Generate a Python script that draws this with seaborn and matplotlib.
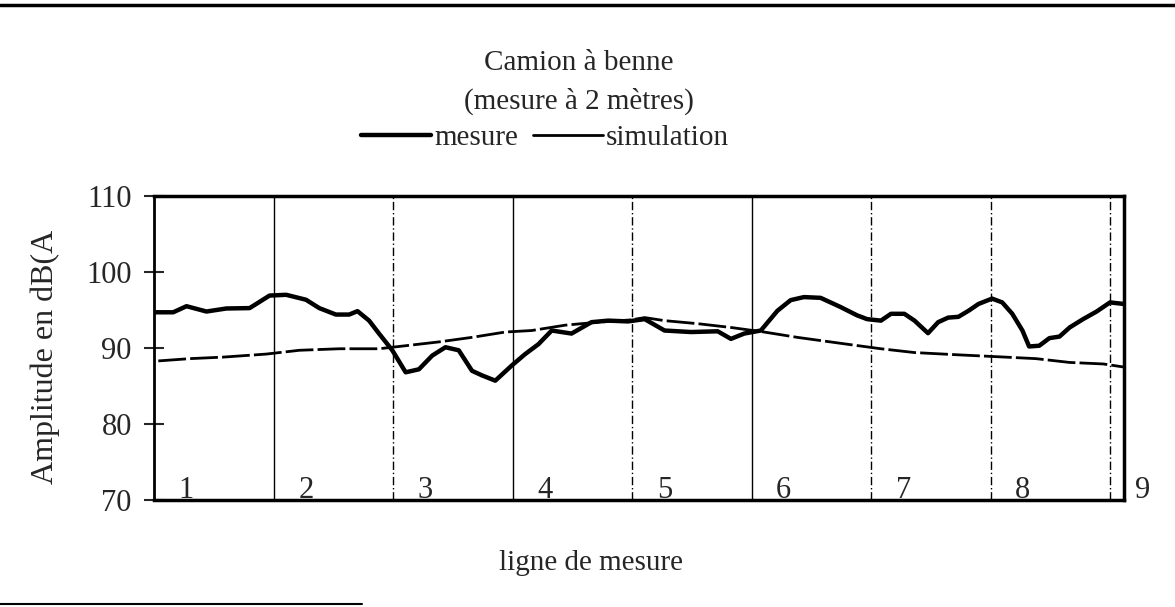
import numpy as np
import pandas as pd
import matplotlib.pyplot as plt
import seaborn as sns
from matplotlib.lines import Line2D

# ---------------------------------------------------------
# data read off the scanned chart (x in "sections" of the measuring line)
# ---------------------------------------------------------
mesure_x = [0, 0.161, 0.272, 0.439, 0.606, 0.8, 0.856, 0.967, 1.106, 1.272,
            1.383, 1.522, 1.633, 1.703, 1.8, 1.883, 1.994, 2.106, 2.217, 2.328,
            2.439, 2.55, 2.661, 2.744, 2.856, 2.994, 3.106, 3.217, 3.328, 3.494,
            3.661, 3.8, 3.967, 4.106, 4.272, 4.494, 4.717, 4.828, 4.939, 5.078,
            5.217, 5.328, 5.439, 5.578, 5.744, 5.883, 5.967, 6.083, 6.167, 6.279,
            6.364, 6.477, 6.562, 6.646, 6.731, 6.816, 6.9, 7.013, 7.098, 7.182,
            7.267, 7.323, 7.408, 7.493, 7.577, 7.662, 7.775, 7.888, 8.0, 8.113]
mesure_y = [94.7, 94.7, 95.5, 94.8, 95.2, 95.25, 95.8, 96.9, 97.0, 96.35,
            95.25, 94.4, 94.4, 94.85, 93.6, 91.9, 89.7, 86.8, 87.2, 89.0,
            90.1, 89.7, 87.0, 86.4, 85.7, 87.7, 89.2, 90.5, 92.3, 91.9,
            93.4, 93.6, 93.5, 93.8, 92.3, 92.1, 92.2, 91.2, 91.9, 92.3,
            94.9, 96.3, 96.7, 96.6, 95.4, 94.3, 93.8, 93.6, 94.5, 94.5,
            93.6, 91.95, 93.4, 94.0, 94.1, 94.9, 95.8, 96.5, 96.0, 94.5,
            92.3, 90.2, 90.3, 91.3, 91.5, 92.7, 93.8, 94.8, 96.0, 95.8]

simulation_x = [0.036, 0.3, 0.578, 0.939, 1.217, 1.55, 1.883, 2.106, 2.383, 2.661,
                2.939, 3.161, 3.439, 3.717, 3.994, 4.106, 4.272, 4.55, 4.828, 5.106,
                5.383, 5.661, 5.8, 6.083, 6.364, 6.731, 7.126, 7.38, 7.662, 7.944, 8.113]
simulation_y = [88.3, 88.6, 88.8, 89.2, 89.7, 89.9, 89.9, 90.3, 90.8, 91.4,
                92.1, 92.3, 93.0, 93.4, 93.7, 94.0, 93.6, 93.2, 92.7, 92.1,
                91.4, 90.8, 90.5, 89.9, 89.4, 89.1, 88.8, 88.6, 88.1, 87.9, 87.5]

section_labels = ["1", "2", "3", "4", "5", "6", "7", "8", "9"]
y_ticks = [70, 80, 90, 100, 110]

# ---------------------------------------------------------
# style
# ---------------------------------------------------------
sns.set_theme(style="white")
plt.rcParams["font.family"] = ["Liberation Serif", "DejaVu Serif"]

fig = plt.figure(figsize=(11.75, 6.07), dpi=100)
ax = fig.add_axes([154 / 1175, 1 - 500 / 607, 970 / 1175, 304 / 607])

df_m = pd.DataFrame({"x": mesure_x, "y": mesure_y})
df_s = pd.DataFrame({"x": simulation_x, "y": simulation_y})

sns.lineplot(data=df_m, x="x", y="y", ax=ax, color="black", lw=3.2,
             estimator=None, legend=False)
sns.lineplot(data=df_s, x="x", y="y", ax=ax, color="black", lw=2.0,
             estimator=None, legend=False)
ax.lines[-1].set_dashes([10, 1.5])

# section separators
sep_styles = ["-", (0, (6, 2, 1, 2)), "-", (0, (6, 2, 1, 2)), "-",
              (0, (6, 2, 1, 2)), (0, (6, 2, 1, 2)), (0, (6, 2, 1, 2))]
for i, ls in enumerate(sep_styles):
    ax.axvline(i + 1, color="black", lw=1.0, ls=ls, zorder=1)

for i, lab in enumerate(section_labels):
    ax.text(i + 0.27, 70.3, lab, ha="center", va="baseline", fontsize=22,
            clip_on=False)

ax.set_xlim(0, 8.117)
ax.set_ylim(70, 110)
ax.set_xticks([])
ax.set_yticks(y_ticks)
ax.tick_params(axis="y", direction="inout", length=14, width=1.5,
               labelsize=22, pad=9, left=True)
for side, w in [("top", 2.5), ("bottom", 2.5), ("left", 2.0), ("right", 2.5)]:
    ax.spines[side].set_visible(True)
    ax.spines[side].set_color("black")
    ax.spines[side].set_linewidth(w)

ax.set_ylabel("Amplitude en dB(A", fontsize=23)
ax.yaxis.set_label_coords(-0.097, 0.47)
ax.set_xlabel("ligne de mesure", fontsize=21)
ax.xaxis.set_label_coords(0.4505, -0.165)

# title and legend above the axes
fig.text(579 / 1175, 1 - 63 / 607, "Camion à benne", ha="center", va="center",
         fontsize=21)
fig.text(579 / 1175, 1 - 101 / 607, "(mesure à 2 mètres)", ha="center",
         va="center", fontsize=21)
handles = [Line2D([], [], color="black", lw=3.2),
           Line2D([], [], color="black", lw=2.0)]
ax.legend(handles, ["mesure", "simulation"], loc="center",
          bbox_to_anchor=(545 / 1175, 1 - 138 / 607),
          bbox_transform=fig.transFigure, ncol=2, frameon=False, fontsize=21,
          handlelength=2.4, handletextpad=0.1, columnspacing=0.5)

# page border lines from the scan
fig.add_artist(Line2D([0, 1], [1 - 5 / 607] * 2, lw=2.5, color="black",
                      transform=fig.transFigure))
fig.add_artist(Line2D([0, 362 / 1175], [1 - 604 / 607] * 2, lw=1.5,
                      color="black", transform=fig.transFigure))

fig.savefig("out.png", dpi=100, facecolor="white")
